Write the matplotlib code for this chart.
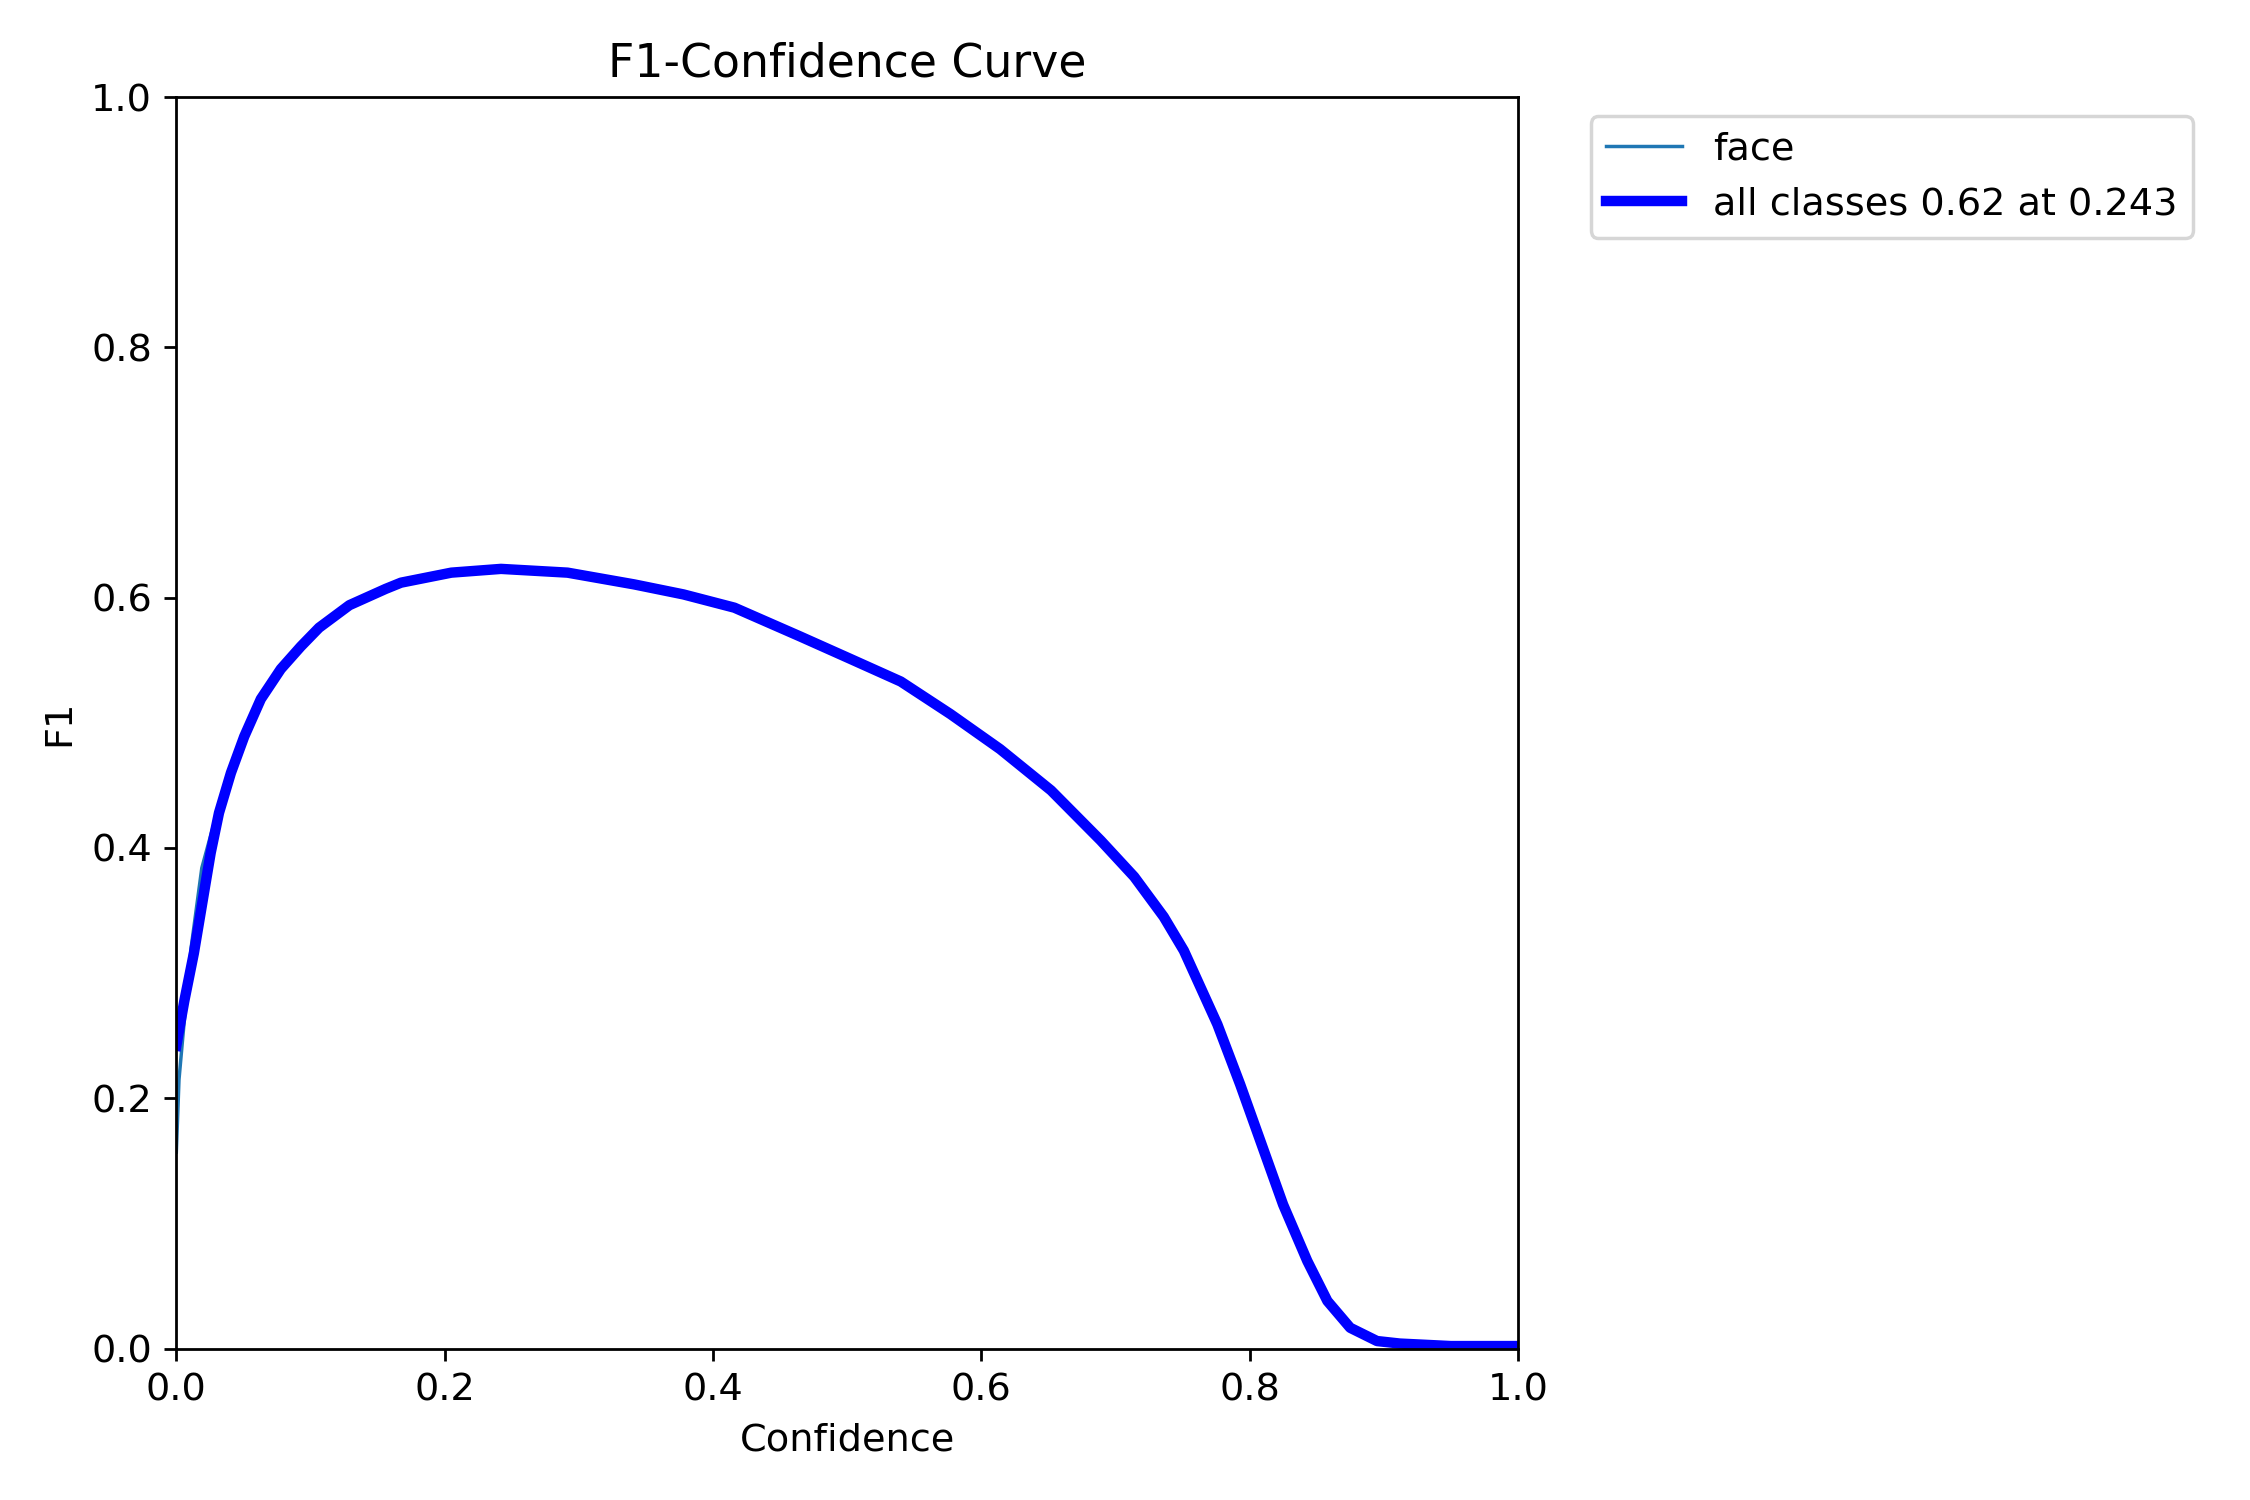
import matplotlib
matplotlib.use("Agg")
import matplotlib.pyplot as plt

plt.rcParams["font.size"] = 11

# values
all_conf = [0.0, 0.006, 0.0131, 0.0256, 0.0318, 0.0407, 0.0506, 0.0630, 0.0779, 0.0928,
            0.1064, 0.129, 0.156, 0.1675, 0.205, 0.242, 0.2916, 0.3413, 0.378, 0.416,
            0.465, 0.5026, 0.540, 0.577, 0.614, 0.652, 0.689, 0.714, 0.736, 0.751,
            0.776, 0.793, 0.808, 0.825, 0.843, 0.858, 0.875, 0.895, 0.912, 0.95, 1.0]
all_f1 = [0.242, 0.278, 0.316, 0.396, 0.428, 0.460, 0.489, 0.519, 0.543, 0.561,
          0.576, 0.594, 0.607, 0.612, 0.620, 0.623, 0.620, 0.6106, 0.6026, 0.592,
          0.569, 0.551, 0.533, 0.507, 0.479, 0.446, 0.406, 0.377, 0.345, 0.318,
          0.259, 0.211, 0.166, 0.115, 0.070, 0.038, 0.0166, 0.006, 0.004, 0.002, 0.002]

face_conf = [0.0, 0.002, 0.005, 0.011, 0.019, 0.0256, 0.0318, 0.0407, 0.0506, 0.0630,
             0.0779, 0.0928, 0.1064, 0.129, 0.156, 0.1675, 0.205, 0.242, 0.2916, 0.3413,
             0.378, 0.416, 0.465, 0.5026, 0.540, 0.577, 0.614, 0.652, 0.689, 0.714,
             0.736, 0.751, 0.776, 0.793, 0.808, 0.825, 0.843, 0.858, 0.875, 0.895,
             0.912, 0.95, 1.0]
face_f1 = [0.157, 0.215, 0.251, 0.320, 0.384, 0.410, 0.433, 0.460, 0.489, 0.519,
           0.543, 0.561, 0.576, 0.594, 0.607, 0.612, 0.620, 0.623, 0.620, 0.6106,
           0.6026, 0.592, 0.569, 0.551, 0.533, 0.507, 0.479, 0.446, 0.406, 0.377,
           0.345, 0.318, 0.259, 0.211, 0.166, 0.115, 0.070, 0.038, 0.0166, 0.006,
           0.004, 0.002, 0.002]

fig, ax = plt.subplots(1, 1, figsize=(9, 6), tight_layout=True)

ax.plot(face_conf, face_f1, linewidth=1, label="face")
ax.plot(all_conf, all_f1, linewidth=3, color="blue", label="all classes 0.62 at 0.243")

ax.set_xlabel("Confidence")
ax.set_ylabel("F1")
ax.set_xlim(0, 1)
ax.set_ylim(0, 1)
ax.legend(bbox_to_anchor=(1.04, 1), loc="upper left")
ax.set_title("F1-Confidence Curve")

fig.savefig("out.png", dpi=250)
